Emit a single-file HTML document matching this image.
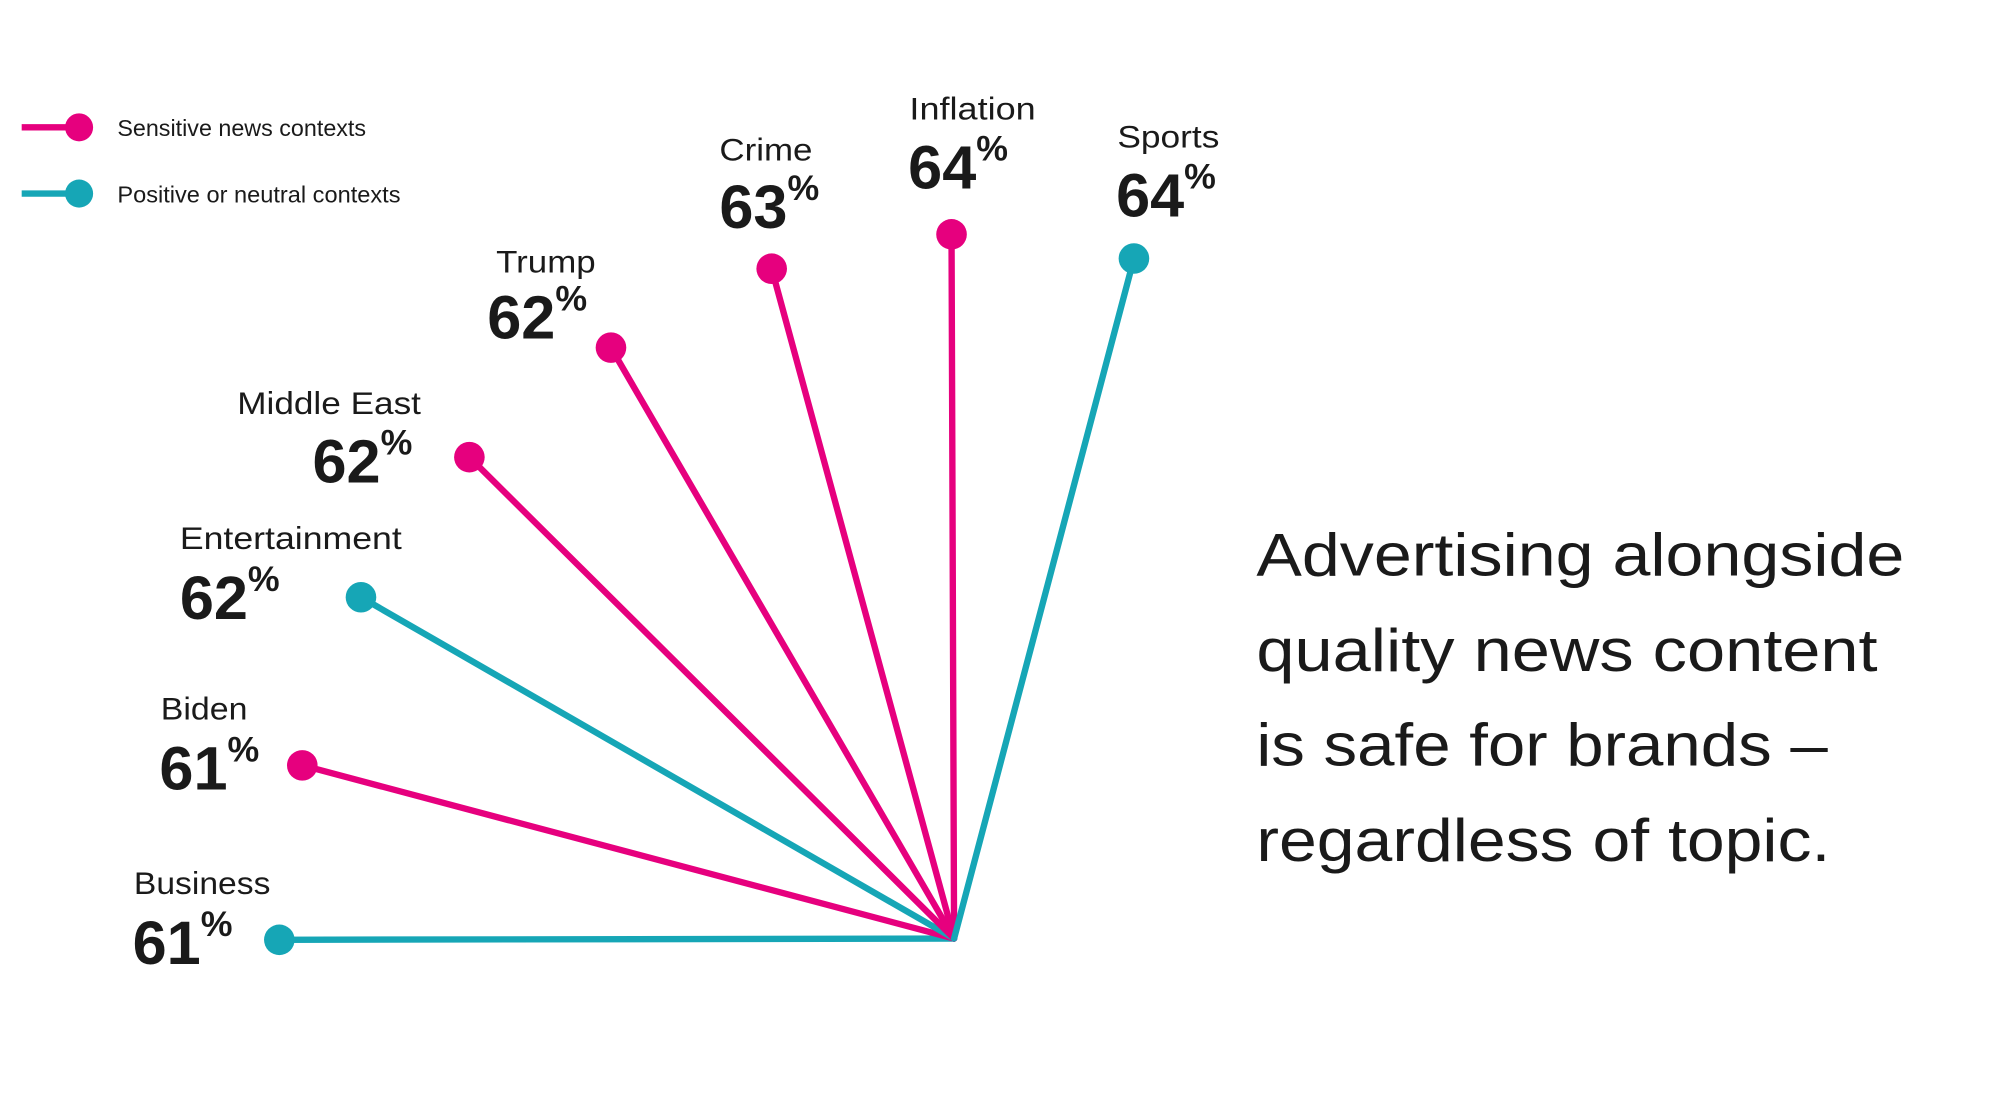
<!DOCTYPE html>
<html><head><meta charset="utf-8"><style>
html,body{margin:0;padding:0;background:#fff;}
svg{display:block;}
text{font-family:"Liberation Sans",sans-serif;fill:#1a1a1a;}
.n{font-size:25px;}
.v{font-size:48px;font-weight:bold;}
.p{font-size:28px;font-weight:bold;}
.h{font-size:47px;}
.l{font-size:18px;}
</style></head><body>
<svg width="2000" height="1113" viewBox="0 0 1568 874" preserveAspectRatio="none">
<g stroke-width="5" stroke-linecap="round">
<line x1="748" y1="737" x2="219" y2="738" stroke="#16a6b6"/>
<line x1="748" y1="737" x2="237" y2="601" stroke="#e6007e"/>
<line x1="748" y1="737" x2="283" y2="469" stroke="#16a6b6"/>
<line x1="748" y1="737" x2="368" y2="359" stroke="#e6007e"/>
<line x1="748" y1="737" x2="479" y2="273" stroke="#e6007e"/>
<line x1="748" y1="737" x2="605" y2="211" stroke="#e6007e"/>
<line x1="748" y1="737" x2="746" y2="184" stroke="#e6007e"/>
<line x1="748" y1="737" x2="889" y2="203" stroke="#16a6b6"/>
</g>
<g>
<circle cx="219" cy="738" r="12" fill="#16a6b6"/>
<circle cx="237" cy="601" r="12" fill="#e6007e"/>
<circle cx="283" cy="469" r="12" fill="#16a6b6"/>
<circle cx="368" cy="359" r="12" fill="#e6007e"/>
<circle cx="479" cy="273" r="12" fill="#e6007e"/>
<circle cx="605" cy="211" r="12" fill="#e6007e"/>
<circle cx="746" cy="184" r="12" fill="#e6007e"/>
<circle cx="889" cy="203" r="12" fill="#16a6b6"/>
</g>
<line x1="17" y1="100" x2="62" y2="100" stroke="#e6007e" stroke-width="5"/>
<circle cx="62" cy="100" r="11" fill="#e6007e"/>
<text class="l" x="92" y="107" textLength="195" lengthAdjust="spacingAndGlyphs">Sensitive news contexts</text>
<line x1="17" y1="152" x2="62" y2="152" stroke="#16a6b6" stroke-width="5"/>
<circle cx="62" cy="152" r="11" fill="#16a6b6"/>
<text class="l" x="92" y="159" textLength="222" lengthAdjust="spacingAndGlyphs">Positive or neutral contexts</text>

<text class="n" x="105" y="702" textLength="107" lengthAdjust="spacingAndGlyphs">Business</text>
<text x="104" y="757"><tspan class="v">61</tspan><tspan class="p" dy="-22">%</tspan></text>
<text class="n" x="126" y="565" textLength="68" lengthAdjust="spacingAndGlyphs">Biden</text>
<text x="125" y="620"><tspan class="v">61</tspan><tspan class="p" dy="-22">%</tspan></text>
<text class="n" x="141" y="431" textLength="174" lengthAdjust="spacingAndGlyphs">Entertainment</text>
<text x="141" y="486"><tspan class="v">62</tspan><tspan class="p" dy="-22">%</tspan></text>
<text class="n" x="186" y="325" textLength="144" lengthAdjust="spacingAndGlyphs">Middle East</text>
<text x="245" y="379"><tspan class="v">62</tspan><tspan class="p" dy="-22">%</tspan></text>
<text class="n" x="389" y="214" textLength="78" lengthAdjust="spacingAndGlyphs">Trump</text>
<text x="382" y="266"><tspan class="v">62</tspan><tspan class="p" dy="-22">%</tspan></text>
<text class="n" x="564" y="126" textLength="73" lengthAdjust="spacingAndGlyphs">Crime</text>
<text x="564" y="179"><tspan class="v">63</tspan><tspan class="p" dy="-22">%</tspan></text>
<text class="n" x="713" y="94" textLength="99" lengthAdjust="spacingAndGlyphs">Inflation</text>
<text x="712" y="148"><tspan class="v">64</tspan><tspan class="p" dy="-22">%</tspan></text>
<text class="n" x="876" y="116" textLength="80" lengthAdjust="spacingAndGlyphs">Sports</text>
<text x="875" y="170"><tspan class="v">64</tspan><tspan class="p" dy="-22">%</tspan></text>

<text class="h" x="985" y="452" textLength="508" lengthAdjust="spacingAndGlyphs">Advertising alongside</text>
<text class="h" x="985" y="527" textLength="487" lengthAdjust="spacingAndGlyphs">quality news content</text>
<text class="h" x="985" y="601" textLength="448" lengthAdjust="spacingAndGlyphs">is safe for brands –</text>
<text class="h" x="985" y="676" textLength="450" lengthAdjust="spacingAndGlyphs">regardless of topic.</text>
</svg>
</body></html>
